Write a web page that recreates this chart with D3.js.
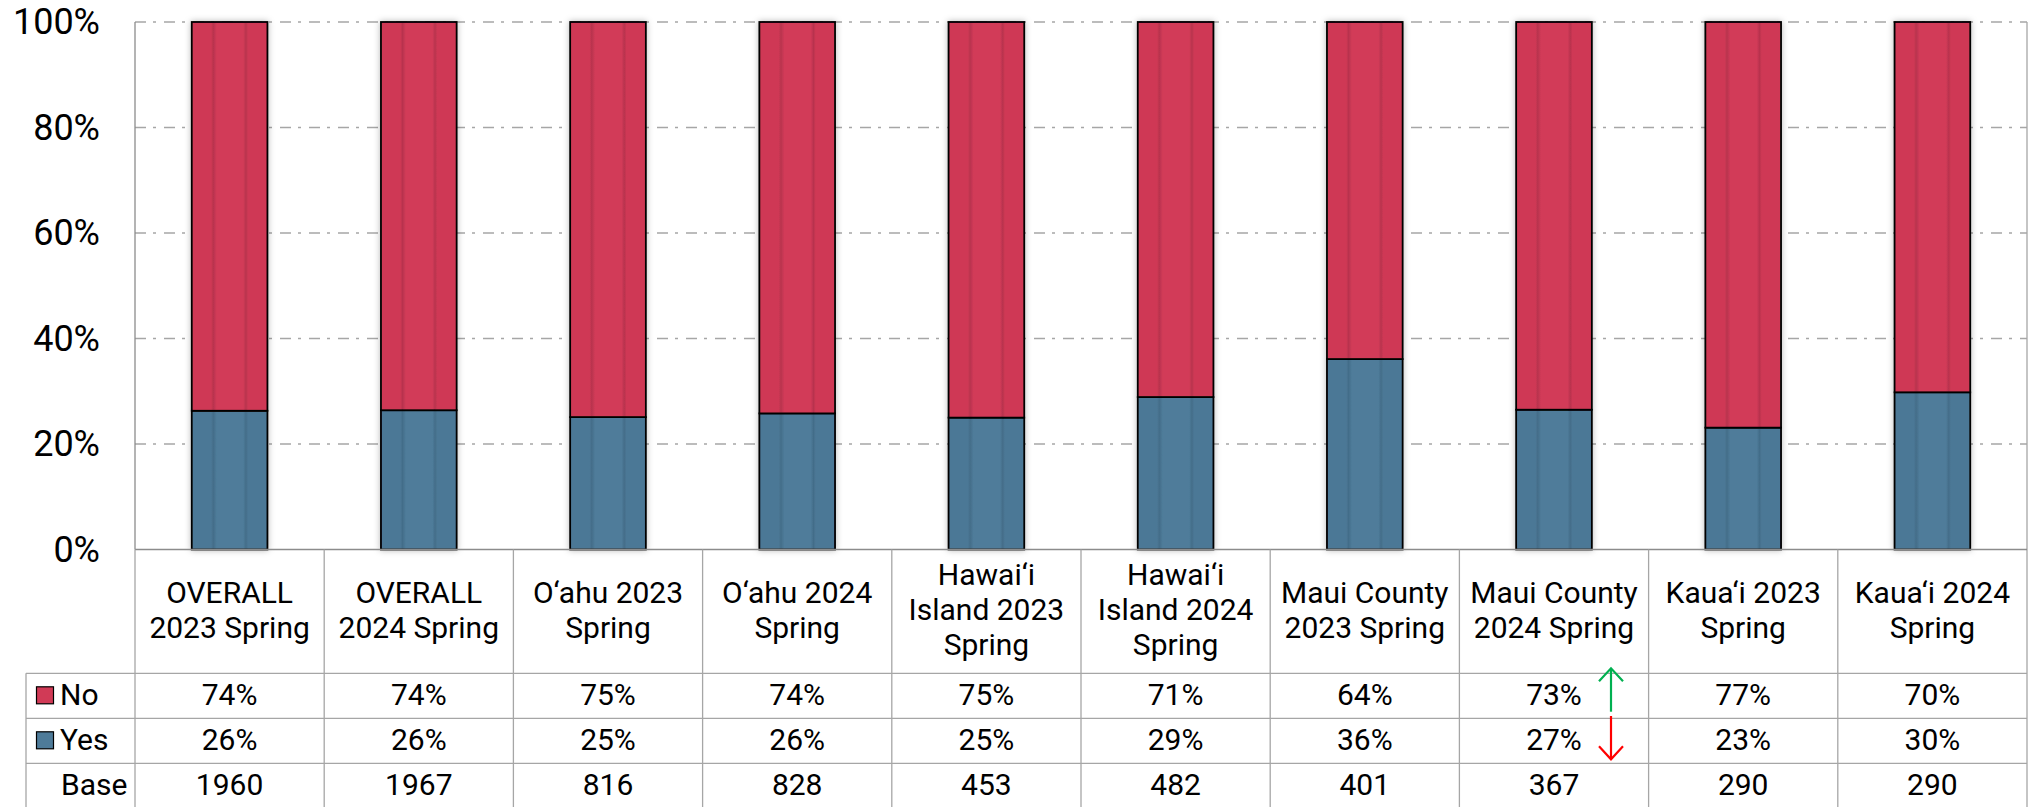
<!DOCTYPE html>
<html><head><meta charset="utf-8">
<script src="https://cdn.jsdelivr.net/npm/d3@7"></script>
<style>
html,body{margin:0;padding:0;background:#fff;}
svg{display:block;font-family:Roboto,"Liberation Sans",sans-serif;}
</style>
</head><body>
<svg id="chart" width="2028" height="807"></svg>
<script>
// ---------- DATA ----------
const categories = ["OVERALL 2023 Spring","OVERALL 2024 Spring","O‘ahu 2023 Spring","O‘ahu 2024 Spring",
  "Hawai‘i Island 2023 Spring","Hawai‘i Island 2024 Spring","Maui County 2023 Spring","Maui County 2024 Spring",
  "Kaua‘i 2023 Spring","Kaua‘i 2024 Spring"];
const headerLines = [["OVERALL","2023 Spring"],["OVERALL","2024 Spring"],["O‘ahu 2023","Spring"],["O‘ahu 2024","Spring"],
  ["Hawai‘i","Island 2023","Spring"],["Hawai‘i","Island 2024","Spring"],["Maui County","2023 Spring"],["Maui County","2024 Spring"],
  ["Kaua‘i 2023","Spring"],["Kaua‘i 2024","Spring"]];
const yesValues = [26.3, 26.4, 25.1, 25.8, 25.0, 28.9, 36.1, 26.5, 23.1, 29.8];
const noValues  = [73.7, 73.6, 74.9, 74.2, 75.0, 71.1, 63.9, 73.5, 76.9, 70.2];
const noLabels  = ["74%","74%","75%","74%","75%","71%","64%","73%","77%","70%"];
const yesLabels = ["26%","26%","25%","26%","25%","29%","36%","27%","23%","30%"];
const baseCounts = ["1960","1967","816","828","453","482","401","367","290","290"];
const yTicks = [0,20,40,60,80,100];
const seriesKeys = ["yes","no"];
const changeMarks = [{index:7,row:"no",dir:"up"},{index:7,row:"yes",dir:"down"}];

// ---------- LAYOUT ----------
const W = 2028, H = 807;
const plotL = 135, plotR = 2027, plotT = 22, plotB = 549.5;
const tableL = 26;
const headerBottom = 673.3, rowH = 45;
const headerMid = 620.4, headerLineH = 35;
const colors = {no:"#D13A56", yes:"#4E7B99"};

const svg = d3.select("#chart");
const defs = svg.append("defs");

function makeGrad(id, edge, mid, dark){
  const g = defs.append("linearGradient").attr("id", id).attr("x1",0).attr("x2",1).attr("y1",0).attr("y2",0);
  [[0,edge],[0.255,edge],[0.285,dark],[0.33,mid],[0.68,mid],[0.715,dark],[0.745,edge],[1,edge]]
    .forEach(([o,c]) => g.append("stop").attr("offset",o).attr("stop-color",c));
}
makeGrad("gNo", "#CF3954", "#D23B58", "#B8334E");
makeGrad("gYes", "#4C7896", "#4F7C9A", "#436D89");

const flt = defs.append("filter").attr("id","shadow").attr("x","-30%").attr("y","-5%").attr("width","160%").attr("height","110%");
flt.append("feDropShadow").attr("dx",0).attr("dy",0).attr("stdDeviation",3).attr("flood-color","#000").attr("flood-opacity",0.28);

const x = d3.scaleBand().domain(categories).range([plotL, plotR]).paddingInner(0.6).paddingOuter(0.3);
const xCol = d3.scaleBand().domain(categories).range([plotL, plotR]).padding(0);
const y = d3.scaleLinear().domain([0,100]).range([plotB, plotT]);

// gridlines
svg.append("g").selectAll("line").data(yTicks.filter(t => t > 0)).join("line")
  .attr("x1", plotL).attr("x2", plotR).attr("y1", d => y(d)).attr("y2", d => y(d))
  .attr("stroke","#a6a6a6").attr("stroke-width",1.4).attr("stroke-dasharray","11,7,3,8");

// y axis labels
const yAxis = d3.axisLeft(y).tickValues(yTicks).tickFormat(d => d + "%").tickSize(0).tickPadding(35);
const ya = svg.append("g").attr("transform", `translate(${plotL},0)`).call(yAxis);
ya.select(".domain").remove();
ya.selectAll("text").attr("font-size", 36).attr("fill","#000").attr("font-family","Roboto");

// stacked bars
const rows = categories.map((c,i) => ({cat:c, yes:yesValues[i], no:noValues[i]}));
const stacked = d3.stack().keys(seriesKeys)(rows);
const barG = svg.append("g");
categories.forEach((c,i) => {
  const g = barG.append("g").attr("filter","url(#shadow)");
  stacked.forEach(s => {
    const d = s[i];
    g.append("rect").attr("x", x(c)).attr("width", x.bandwidth())
      .attr("y", y(d[1])).attr("height", y(d[0]) - y(d[1]))
      .attr("fill", s.key === "no" ? "url(#gNo)" : "url(#gYes)")
      .attr("stroke","#000").attr("stroke-width",1.8);
  });
});

// axis frame
svg.append("line").attr("x1",plotL).attr("x2",plotL).attr("y1",plotT).attr("y2",plotB).attr("stroke","#8c8c8c").attr("stroke-width",1.3);
svg.append("line").attr("x1",plotR).attr("x2",plotR).attr("y1",plotT).attr("y2",H).attr("stroke","#a6a6a6").attr("stroke-width",1.3);
svg.append("line").attr("x1",plotL).attr("x2",plotR).attr("y1",plotB).attr("y2",plotB).attr("stroke","#8c8c8c").attr("stroke-width",1.6);

// table lines
const tbl = svg.append("g").attr("stroke","#a6a6a6").attr("stroke-width",1.3);
categories.forEach((c,i) => {
  const xx = xCol(c);
  tbl.append("line").attr("x1",xx).attr("x2",xx).attr("y1",plotB).attr("y2",H);
});
[0,1,2,3].forEach(k => {
  const yy = headerBottom + k*rowH;
  tbl.append("line").attr("x1",tableL).attr("x2",plotR).attr("y1",yy).attr("y2",yy);
});
tbl.append("line").attr("x1",tableL).attr("x2",tableL).attr("y1",headerBottom).attr("y2",H);

// header text (vertically centred in the header cell)
const txt = svg.append("g").attr("font-size",30).attr("fill","#000").attr("text-anchor","middle");
categories.forEach((c,i) => {
  const cx = xCol(c) + xCol.bandwidth()/2;
  const lines = headerLines[i];
  const y0 = headerMid - (lines.length - 1) * headerLineH / 2;
  const t = txt.append("text").attr("x", cx).attr("y", y0);
  lines.forEach((ln,k) => t.append("tspan").attr("x",cx).attr("y",y0 + k*headerLineH).text(ln));
});

// data rows
const rowDefs = [{key:"no", labels:noLabels, name:"No"},{key:"yes", labels:yesLabels, name:"Yes"},{key:"base", labels:baseCounts, name:"Base"}];
rowDefs.forEach((r,k) => {
  const top = headerBottom + k*rowH;
  categories.forEach((c,i) => {
    txt.append("text").attr("x", xCol(c) + xCol.bandwidth()/2).attr("y", top + 31.7).text(r.labels[i]);
  });
  if (r.key === "base") {
    svg.append("text").attr("x",127.5).attr("y",top+31.7).attr("text-anchor","end").attr("font-size",30).attr("fill","#000").text(r.name);
  } else {
    svg.append("rect").attr("x",36.5).attr("y",top+13.5).attr("width",17).attr("height",17)
      .attr("fill",colors[r.key]).attr("stroke","#000").attr("stroke-width",1.2);
    svg.append("text").attr("x",60).attr("y",top+31.7).attr("font-size",30).attr("fill","#000").text(r.name);
  }
});

// change arrows
changeMarks.forEach(m => {
  const c = categories[m.index];
  const ax = xCol(c) + xCol.bandwidth()/2 + 57;
  const k = m.row === "no" ? 0 : 1;
  const top = headerBottom + k*rowH;
  const col = m.dir === "up" ? "#00B050" : "#FF0000";
  const g = svg.append("g").attr("stroke",col).attr("stroke-width",2.2).attr("fill","none");
  if (m.dir === "up") {
    const tip = top - 5, bot = top + 38.4;
    g.append("line").attr("x1",ax).attr("x2",ax).attr("y1",tip+1).attr("y2",bot);
    g.append("path").attr("d",`M${ax-12},${tip+13} L${ax},${tip} L${ax+12},${tip+13}`);
  } else {
    const tip = top + 41, topY = top - 2.3;
    g.append("line").attr("x1",ax).attr("x2",ax).attr("y1",topY).attr("y2",tip-1);
    g.append("path").attr("d",`M${ax-12},${tip-13} L${ax},${tip} L${ax+12},${tip-13}`);
  }
});
</script>
</body></html>
